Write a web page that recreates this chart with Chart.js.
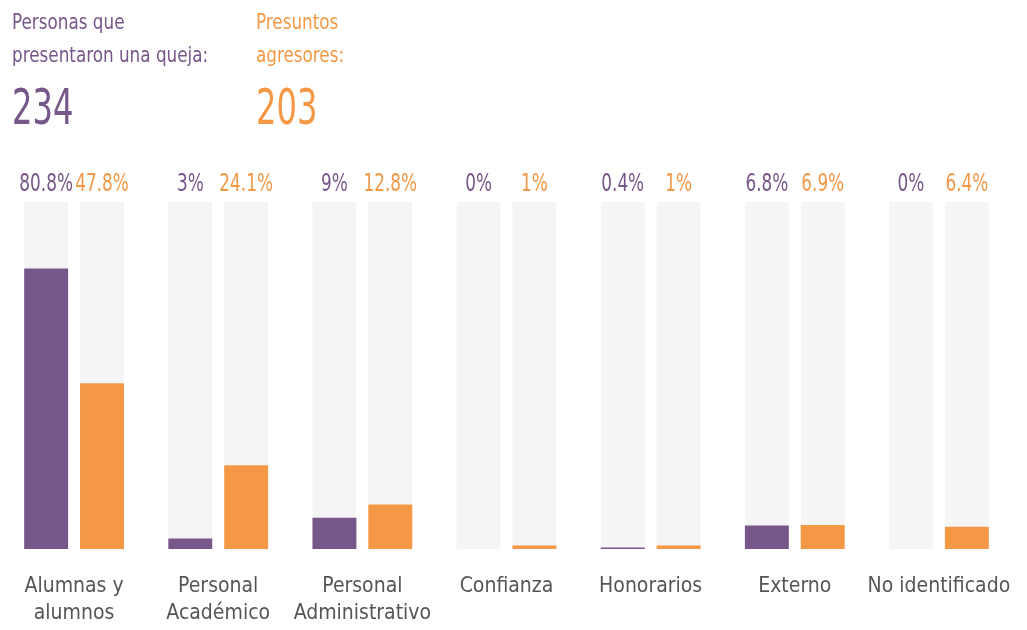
<!DOCTYPE html>
<html>
<head>
<meta charset="utf-8">
<script src="https://cdn.jsdelivr.net/npm/chart.js@4/dist/chart.umd.min.js"></script>
<style>
  html, body { margin: 0; padding: 0; background: #fff; }
  #wrap { position: relative; width: 1027px; height: 630px; }
  #chart { position: absolute; left: 0; top: 0; }
  .head { position: absolute; white-space: nowrap; transform-origin: 0 0;
          font-family: 'DejaVu Sans Condensed', 'DejaVu Sans', sans-serif; }
  .lbl { font-size: 21px; line-height: 33px; transform: scaleX(0.89); top: 6px; }
  .num { font-size: 49px; line-height: 48px; transform: scaleX(0.73); top: 84px; }
  .purple { color: #775689; }
  .orange { color: #f49846; }
</style>
</head>
<body>
<div id="wrap">
  <canvas id="chart" width="1027" height="630"></canvas>
  <div class="head lbl purple" style="left:12px">Personas que<br>presentaron una queja:</div>
  <div class="head num purple" style="left:12px">234</div>
  <div class="head lbl orange" style="left:256px">Presuntos<br>agresores:</div>
  <div class="head num orange" style="left:256px">203</div>
</div>
<script>
// --- data ---
const categories = [
  ['Alumnas y', 'alumnos'],
  ['Personal', 'Académico'],
  ['Personal', 'Administrativo'],
  'Confianza',
  'Honorarios',
  'Externo',
  'No identificado'
];
const quejosos = [80.8, 3, 9, 0, 0.4, 6.8, 0];     // % personas que presentaron una queja
const agresores = [47.8, 24.1, 12.8, 1, 1, 6.9, 6.4]; // % presuntos agresores

const PURPLE = '#775689';
const ORANGE = '#f49846';
const TRACK = '#f5f5f5';
const FONT = "'DejaVu Sans Condensed', 'DejaVu Sans', sans-serif";

// grey full-height track behind every bar
const trackPlugin = {
  id: 'track',
  beforeDatasetsDraw(chart) {
    const ctx = chart.ctx;
    const y = chart.scales.y;
    const top = y.getPixelForValue(100);
    const bottom = y.getPixelForValue(0);
    ctx.save();
    ctx.fillStyle = TRACK;
    chart.data.datasets.forEach((ds, i) => {
      chart.getDatasetMeta(i).data.forEach(bar => {
        ctx.fillRect(bar.x - bar.width / 2, top, bar.width, bottom - top);
      });
    });
    ctx.restore();
  }
};

// percentage labels above each track (squeezed a bit to look condensed)
const valuePlugin = {
  id: 'values',
  afterDatasetsDraw(chart) {
    const ctx = chart.ctx;
    const top = chart.scales.y.getPixelForValue(100);
    ctx.save();
    ctx.font = '25px ' + FONT;
    ctx.textAlign = 'center';
    ctx.textBaseline = 'alphabetic';
    chart.data.datasets.forEach((ds, i) => {
      ctx.fillStyle = ds.backgroundColor;
      chart.getDatasetMeta(i).data.forEach((bar, j) => {
        ctx.save();
        ctx.translate(bar.x, top - 11);
        ctx.scale(0.75, 1);
        ctx.fillText(ds.data[j] + '%', 0, 0);
        ctx.restore();
      });
    });
    ctx.restore();
  }
};

new Chart(document.getElementById('chart'), {
  type: 'bar',
  data: {
    labels: categories,
    datasets: [
      { label: 'Personas que presentaron una queja', data: quejosos, backgroundColor: PURPLE },
      { label: 'Presuntos agresores', data: agresores, backgroundColor: ORANGE }
    ]
  },
  options: {
    responsive: false,
    animation: false,
    devicePixelRatio: 1,
    categoryPercentage: 0.775,
    barPercentage: 0.786,
    layout: { padding: { top: 202, left: 2, right: 16, bottom: 0 } },
    plugins: { legend: { display: false }, tooltip: { enabled: false } },
    scales: {
      x: {
        grid: { display: false, drawTicks: false },
        border: { display: false },
        ticks: { color: '#555', font: { family: FONT, size: 21, lineHeight: 1.3 }, padding: 24, maxRotation: 0, autoSkip: false },
        afterFit(scale) {
          scale.height = 81;
          scale.paddingLeft = 0;
          scale.paddingRight = 0;
        }
      },
      y: { display: false, min: 0, max: 100 }
    }
  },
  plugins: [trackPlugin, valuePlugin]
});
</script>
</body>
</html>
